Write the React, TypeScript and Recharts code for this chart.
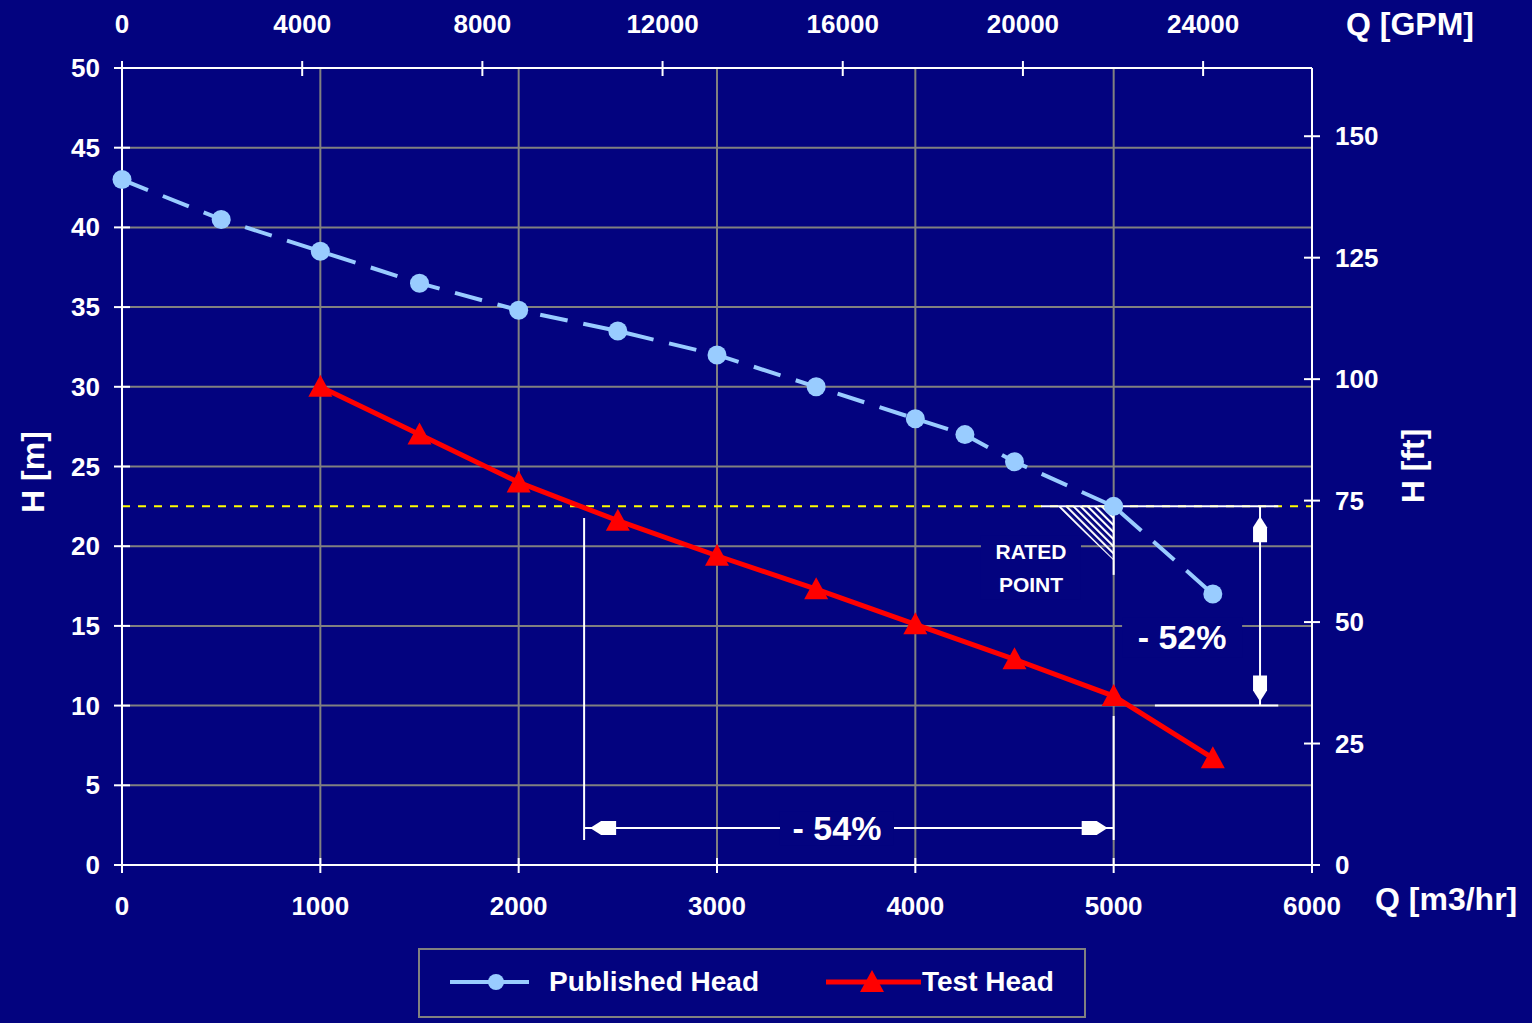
import React from "react"
import {
  ComposedChart,
  Line,
  XAxis,
  YAxis,
  CartesianGrid,
  ReferenceLine,
  ReferenceDot,
  ReferenceArea,
} from "recharts"

// page reset so the chart sits at 0,0 like the reference
if (typeof document !== "undefined") {
  document.body.style.margin = "0"
  document.body.style.background = "#03037f"
}

const NAVY = "#03037f"
const FONT = "'Liberation Sans', Arial, sans-serif"

// plot box in page pixels
const PLOT = { left: 122, top: 68, right: 1312, bottom: 865 }

// published head curve (Q m3/hr, H m)
const publishedQ = [0, 500, 1000, 1500, 2000, 2500, 3000, 3500, 4000, 4250, 4500, 5000, 5500]
const publishedH = [43.0, 40.5, 38.5, 36.5, 34.8, 33.5, 32.0, 30.0, 28.0, 27.0, 25.3, 22.5, 17.0]

// test head curve
const testQ = [1000, 1500, 2000, 2500, 3000, 3500, 4000, 4500, 5000, 5500]
const testH = [30.0, 27.0, 24.0, 21.6, 19.4, 17.3, 15.1, 12.9, 10.6, 6.7]

// axis ticks
const qTicks = [0, 1000, 2000, 3000, 4000, 5000, 6000]
const hTicks = [0, 5, 10, 15, 20, 25, 30, 35, 40, 45, 50]
const gpmTicks = [0, 4000, 8000, 12000, 16000, 20000, 24000]
const ftTicks = [0, 25, 50, 75, 100, 125, 150]

const Q_MAX = 6000
const H_MAX = 50
const GPM_PER_M3H = 4.402868
const FT_PER_M = 3.28084

// annotations (data units)
const ratedQ = 5000
const ratedH = 22.5
const ratedLineQ = [4634, 5830]
const ratedStemH = 18.2
const hatchQ = [4715, 5000]
const hatchH = [19.1, 22.5]
const ratedLabel = { q: 4583, h: 18.65 }

const headDropQ = 5738
const testRatedH = 10
const testLineQ = [5208, 5830]
const headDropLabel = { q: 5345, h: 14.3, text: "- 52%" }

const flowLeftQ = 2330
const flowLeftTopH = 21.77
const flowRightTopH = 9.35
const flowDimH = 2.32
const flowBottomH = 1.57
const flowDropLabel = { q: 3605, h: 2.32, text: "- 54%" }

const publishedData = publishedQ.map((q, i) => ({ q, h: publishedH[i] }))
const testData = testQ.map((q, i) => ({ q, h: testH[i] }))
// empty carrier so the GPM axis gets a domain to hang its ticks on
const gpmAxisData = [{ gpm: 0 }, { gpm: Q_MAX * GPM_PER_M3H }]

const tickText = {
  fill: "#ffffff",
  fontSize: 26,
  fontWeight: 700,
  fontFamily: FONT,
}

function LeftTick(props: any) {
  const { y, payload } = props
  return (
    <g>
      <line x1={PLOT.left - 8} x2={PLOT.left + 8} y1={y} y2={y} stroke="#fff" strokeWidth={2} />
      <text x={PLOT.left - 22} y={y} textAnchor="end" dominantBaseline="central" {...tickText}>
        {payload.value}
      </text>
    </g>
  )
}

function RightTick(props: any) {
  const { y, payload } = props
  return (
    <g>
      <line x1={PLOT.right - 8} x2={PLOT.right + 8} y1={y} y2={y} stroke="#fff" strokeWidth={2} />
      <text x={PLOT.right + 23} y={y} textAnchor="start" dominantBaseline="central" {...tickText}>
        {payload.value}
      </text>
    </g>
  )
}

function BottomTick(props: any) {
  const { x, payload } = props
  return (
    <g>
      <line x1={x} x2={x} y1={PLOT.bottom - 7} y2={PLOT.bottom + 8} stroke="#fff" strokeWidth={2} />
      <text x={x} y={906} textAnchor="middle" dominantBaseline="central" {...tickText}>
        {payload.value}
      </text>
    </g>
  )
}

function TopTick(props: any) {
  const { x, payload } = props
  return (
    <g>
      <line x1={x} x2={x} y1={PLOT.top - 7} y2={PLOT.top + 8} stroke="#fff" strokeWidth={2} />
      <text x={x} y={24} textAnchor="middle" dominantBaseline="central" {...tickText}>
        {payload.value}
      </text>
    </g>
  )
}

function CircleDot(props: any) {
  const { cx, cy, index } = props
  return <circle key={`c${index}`} cx={cx} cy={cy} r={9.5} fill="#99ccff" />
}

function TriangleDot(props: any) {
  const { cx, cy, index } = props
  return (
    <polygon
      key={`t${index}`}
      points={`${cx},${cy - 12} ${cx + 12},${cy + 10} ${cx - 12},${cy + 10}`}
      fill="#ff0000"
    />
  )
}

// block arrow head, (dx,dy) points from the tip back along the shaft
function arrowShape(dx: number, dy: number, off: number) {
  return (props: any) => {
    const { cx, cy } = props
    const nx = -dy
    const ny = dx
    const tx = cx + dx * off
    const ty = cy + dy * off
    const p = (a: number, b: number) => `${tx + dx * a + nx * b},${ty + dy * a + ny * b}`
    return (
      <polygon
        points={[p(0, 0), p(11, 7), p(26, 7), p(26, -7), p(11, -7)].join(" ")}
        fill="#ffffff"
      />
    )
  }
}

function boxedLabel(text: string, w: number, h: number, size: number) {
  return (props: any) => {
    const { cx, cy } = props
    return (
      <g>
        <rect x={cx - w / 2} y={cy - h / 2} width={w} height={h} fill={NAVY} />
        <text
          x={cx}
          y={cy}
          textAnchor="middle"
          dominantBaseline="central"
          fill="#fff"
          fontSize={size}
          fontWeight={700}
          fontFamily={FONT}
        >
          {text}
        </text>
      </g>
    )
  }
}

function RatedLabel(props: any) {
  const { cx, cy } = props
  const t = { fill: "#fff", fontSize: 21, fontWeight: 700, fontFamily: FONT, textAnchor: "middle" as const }
  return (
    <g>
      <rect x={cx - 50} y={cy - 32} width={100} height={64} fill={NAVY} />
      <text x={cx} y={cy - 16} dominantBaseline="central" {...t}>
        RATED
      </text>
      <text x={cx} y={cy + 17} dominantBaseline="central" {...t}>
        POINT
      </text>
    </g>
  )
}

function HatchTriangle(props: any) {
  const { x, y, width, height } = props
  return (
    <g>
      <defs>
        <pattern id="hatch" patternUnits="userSpaceOnUse" width={5} height={5} patternTransform="rotate(-45)">
          <line x1={1} y1={0} x2={1} y2={5} stroke="#fff" strokeWidth={2.2} />
        </pattern>
      </defs>
      <polygon points={`${x},${y} ${x + width},${y} ${x + width},${y + height}`} fill="url(#hatch)" />
    </g>
  )
}

const white = { stroke: "#ffffff", strokeWidth: 2 }
const ids = { xAxisId: "m3", yAxisId: "m" }

export default function App() {
  const title = { fill: "#fff", fontSize: 32, fontWeight: 700, fontFamily: FONT }
  const legendText = { fill: "#fff", fontSize: 28, fontWeight: 700, fontFamily: FONT }
  return (
    <div style={{ position: "relative", width: 1532, height: 1023, background: NAVY, overflow: "hidden" }}>
      <ComposedChart width={1532} height={1023} margin={{ top: 38, left: 62, right: 160, bottom: 118 }}>
        <CartesianGrid xAxisId="m3" yAxisId="m" stroke="#808080" strokeWidth={2} />
        <XAxis
          xAxisId="m3"
          type="number"
          dataKey="q"
          domain={[0, Q_MAX]}
          ticks={qTicks}
          interval={0}
          height={40}
          axisLine={{ stroke: "#fff", strokeWidth: 2 }}
          tickLine={false}
          tick={BottomTick}
        />
        <XAxis
          xAxisId="gpm"
          orientation="top"
          type="number"
          dataKey="gpm"
          domain={[0, Q_MAX * GPM_PER_M3H]}
          ticks={gpmTicks}
          interval={0}
          height={30}
          axisLine={{ stroke: "#fff", strokeWidth: 2 }}
          tickLine={false}
          tick={TopTick}
          allowDataOverflow
        />
        <YAxis
          yAxisId="m"
          type="number"
          domain={[0, H_MAX]}
          ticks={hTicks}
          interval={0}
          width={60}
          axisLine={{ stroke: "#fff", strokeWidth: 2 }}
          tickLine={false}
          tick={LeftTick}
        />
        <YAxis
          yAxisId="ft"
          orientation="right"
          type="number"
          domain={[0, H_MAX * FT_PER_M]}
          ticks={ftTicks}
          interval={0}
          width={60}
          axisLine={{ stroke: "#fff", strokeWidth: 2 }}
          tickLine={false}
          tick={RightTick}
          allowDataOverflow
        />

        {/* rated head line */}
        <ReferenceLine {...ids} y={ratedH} stroke="#ffff00" strokeWidth={2} strokeDasharray="8 8" />
        <ReferenceLine
          {...ids}
          segment={[
            { x: ratedLineQ[0], y: ratedH },
            { x: ratedLineQ[1], y: ratedH },
          ]}
          {...white}
        />
        <ReferenceLine
          {...ids}
          segment={[
            { x: ratedQ, y: ratedH },
            { x: ratedQ, y: ratedStemH },
          ]}
          {...white}
        />
        <ReferenceArea {...ids} x1={hatchQ[0]} x2={hatchQ[1]} y1={hatchH[0]} y2={hatchH[1]} shape={HatchTriangle} />
        <ReferenceDot {...ids} x={ratedLabel.q} y={ratedLabel.h} shape={RatedLabel} />

        {/* head drop dimension */}
        <ReferenceLine
          {...ids}
          segment={[
            { x: testLineQ[0], y: testRatedH },
            { x: testLineQ[1], y: testRatedH },
          ]}
          {...white}
        />
        <ReferenceLine
          {...ids}
          segment={[
            { x: headDropQ, y: ratedH },
            { x: headDropQ, y: testRatedH },
          ]}
          {...white}
        />
        <ReferenceDot {...ids} x={headDropQ} y={ratedH} shape={arrowShape(0, 1, 10)} />
        <ReferenceDot {...ids} x={headDropQ} y={testRatedH} shape={arrowShape(0, -1, 4)} />
        <ReferenceDot
          {...ids}
          x={headDropLabel.q}
          y={headDropLabel.h}
          shape={boxedLabel(headDropLabel.text, 120, 40, 34)}
        />

        {/* flow drop dimension */}
        <ReferenceLine
          {...ids}
          segment={[
            { x: flowLeftQ, y: flowLeftTopH },
            { x: flowLeftQ, y: flowBottomH },
          ]}
          {...white}
        />
        <ReferenceLine
          {...ids}
          segment={[
            { x: ratedQ, y: flowRightTopH },
            { x: ratedQ, y: flowBottomH },
          ]}
          {...white}
        />
        <ReferenceLine
          {...ids}
          segment={[
            { x: flowLeftQ, y: flowDimH },
            { x: ratedQ, y: flowDimH },
          ]}
          {...white}
        />
        <ReferenceDot {...ids} x={flowLeftQ} y={flowDimH} shape={arrowShape(1, 0, 6)} />
        <ReferenceDot {...ids} x={ratedQ} y={flowDimH} shape={arrowShape(-1, 0, 6)} />
        <ReferenceDot
          {...ids}
          x={flowDropLabel.q}
          y={flowDropLabel.h}
          shape={boxedLabel(flowDropLabel.text, 114, 34, 34)}
        />

        <Line
          xAxisId="gpm"
          yAxisId="m"
          data={gpmAxisData}
          dataKey="none"
          stroke="none"
          dot={false}
          activeDot={false}
          legendType="none"
          isAnimationActive={false}
        />
        <Line
          {...ids}
          data={publishedData}
          dataKey="h"
          type="linear"
          stroke="#99ccff"
          strokeWidth={4}
          strokeDasharray="28 16"
          dot={CircleDot}
          activeDot={false}
          isAnimationActive={false}
        />
        <Line
          {...ids}
          data={testData}
          dataKey="h"
          type="linear"
          stroke="#ff0000"
          strokeWidth={5}
          dot={TriangleDot}
          activeDot={false}
          isAnimationActive={false}
        />
      </ComposedChart>

      <svg
        width={1532}
        height={1023}
        style={{ position: "absolute", left: 0, top: 0, pointerEvents: "none" }}
      >
        <text x={1346} y={24} dominantBaseline="central" {...title}>
          Q [GPM]
        </text>
        <text x={1375} y={899} dominantBaseline="central" {...title}>
          Q [m3/hr]
        </text>
        <text
          x={33}
          y={472}
          textAnchor="middle"
          dominantBaseline="central"
          transform="rotate(-90 33 472)"
          {...title}
        >
          H [m]
        </text>
        <text
          x={1413}
          y={466}
          textAnchor="middle"
          dominantBaseline="central"
          transform="rotate(-90 1413 466)"
          {...title}
        >
          H [ft]
        </text>

        {/* legend */}
        <rect x={419} y={949} width={666} height={68} fill={NAVY} stroke="#808080" strokeWidth={2} />
        <line x1={450} x2={529} y1={982} y2={982} stroke="#99ccff" strokeWidth={4} />
        <circle cx={496} cy={982} r={8} fill="#99ccff" />
        <text x={549} y={981} dominantBaseline="central" {...legendText}>
          Published Head
        </text>
        <line x1={826} x2={921} y1={982} y2={982} stroke="#ff0000" strokeWidth={5} />
        <polygon points="872,970 884,992 860,992" fill="#ff0000" />
        <text x={922} y={981} dominantBaseline="central" {...legendText}>
          Test Head
        </text>
      </svg>
    </div>
  )
}
